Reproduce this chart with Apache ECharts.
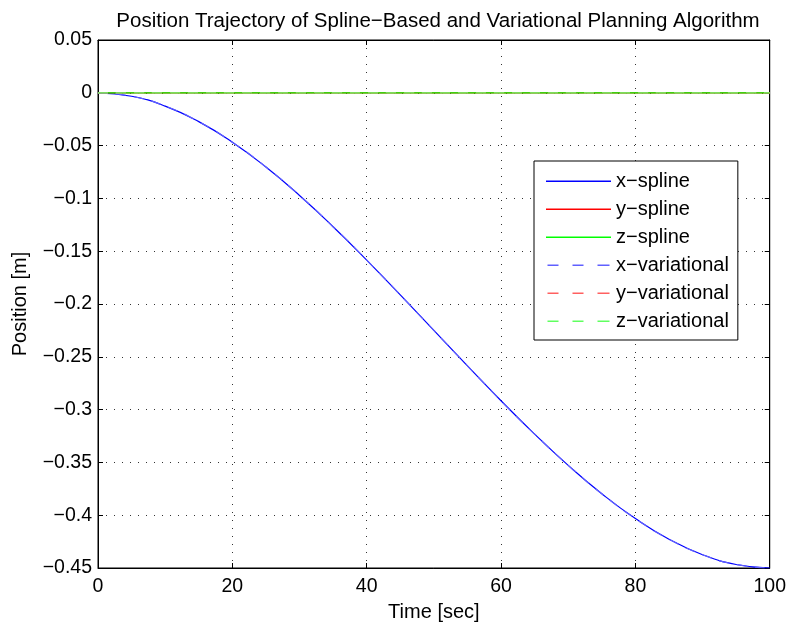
<!DOCTYPE html>
<html>
<head>
<meta charset="utf-8">
<script src="https://cdn.jsdelivr.net/npm/echarts@6/dist/echarts.min.js"></script>
<style>
  html, body { margin: 0; padding: 0; background: #fff; }
  #chart { width: 789px; height: 629px; }
</style>
</head>
<body>
<div id="chart"></div>
<script>
// time samples [sec]
const time = [0, 5, 10, 15, 20, 25, 30, 35, 40, 45, 50, 55, 60, 65, 70, 75, 80, 85, 90, 95, 100];
// positions [m]
const xSpline = [0, -0.0033, -0.0126, -0.0273, -0.0468, -0.0703, -0.0972, -0.1268, -0.1584, -0.1914, -0.225,
  -0.2586, -0.2916, -0.3232, -0.3528, -0.3797, -0.4032, -0.4227, -0.4374, -0.4467, -0.45];
const ySpline = [0, 0, 0, 0, 0, 0, 0, 0, 0, 0, 0, 0, 0, 0, 0, 0, 0, 0, 0, 0, 0];
const zSpline = [0, 0, 0, 0, 0, 0, 0, 0, 0, 0, 0, 0, 0, 0, 0, 0, 0, 0, 0, 0, 0];
const xVariational = [0, -0.0033, -0.0126, -0.0273, -0.0468, -0.0703, -0.0972, -0.1268, -0.1584, -0.1914, -0.225,
  -0.2586, -0.2916, -0.3232, -0.3528, -0.3797, -0.4032, -0.4227, -0.4374, -0.4467, -0.45];
const yVariational = [0, 0, 0, 0, 0, 0, 0, 0, 0, 0, 0, 0, 0, 0, 0, 0, 0, 0, 0, 0, 0];
const zVariational = [0, 0, 0, 0, 0, 0, 0, 0, 0, 0, 0, 0, 0, 0, 0, 0, 0, 0, 0, 0, 0];

const seriesNames = ["x\u2212spline", "y\u2212spline", "z\u2212spline",
  "x\u2212variational", "y\u2212variational", "z\u2212variational"];
const seriesValues = [xSpline, ySpline, zSpline, xVariational, yVariational, zVariational];
const seriesColors = ["#0000ff", "#ff0000", "#00ff00", "#6060ff", "#ff6060", "#60ff60"];
const seriesDashed = [false, false, false, true, true, true];

const font = "'Liberation Sans', Arial, Helvetica, sans-serif";

// legend samples: a thin bar (solid) or three dashes; the zero-width sliver keeps the 65x12 box
const solidIcon = "path://M0,0L0,12L0.001,12Z M0,5.5h65v1.4h-65Z";
const dashedIcon = "path://M0,0L0,12L0.001,12Z M0,5.5h11v1.4h-11Z M25,5.5h11v1.4h-11Z M50,5.5h12v1.4h-12Z";

function fmt(v) {
  const r = Math.round(v * 100) / 100;
  return String(r).replace("-", "\u2212");
}

const chart = echarts.init(document.getElementById("chart"), null, { renderer: "canvas" });

const gridLine = { show: true, lineStyle: { color: "#333", type: [1, 7], width: 1 } };
const tick = { show: true, inside: true, length: 5, lineStyle: { color: "#000" } };

const option = {
  animation: false,
  backgroundColor: "#fff",
  title: {
    text: "Position Trajectory of Spline\u2212Based and Variational Planning Algorithm",
    left: 433,
    textAlign: "center",
    top: 6,
    textStyle: { fontFamily: font, fontSize: 20.5, fontWeight: "normal", color: "#000" },
  },
  legend: {
    orient: "vertical",
    left: 534,
    top: 161,
    data: seriesNames.map((name, i) => ({
      name: name,
      icon: seriesDashed[i] ? dashedIcon : solidIcon,
      itemStyle: { color: seriesColors[i], borderWidth: 0 },
    })),
    itemWidth: 65,
    itemHeight: 12,
    itemGap: 8,
    padding: [10, 9, 9, 12],
    backgroundColor: "#fff",
    borderColor: "#000",
    borderWidth: 1,
    borderRadius: 0,
    textStyle: { fontFamily: font, fontSize: 20, color: "#000" },
  },
  grid: {
    left: 98,
    right: 19,
    top: 40,
    bottom: 61,
    show: true,
    borderColor: "#000",
    borderWidth: 1,
    containLabel: false,
  },
  xAxis: [
    {
      type: "value",
      min: 0,
      max: 100,
      interval: 20,
      name: "Time [sec]",
      nameLocation: "middle",
      nameGap: 34,
      nameTextStyle: { fontFamily: font, fontSize: 20, color: "#000" },
      axisLine: { show: true, onZero: false, lineStyle: { color: "#000" } },
      axisTick: tick,
      axisLabel: { fontFamily: font, fontSize: 19.5, color: "#000", margin: 9 },
      splitLine: gridLine,
    },
    {
      type: "value",
      position: "top",
      min: 0,
      max: 100,
      interval: 20,
      axisLine: { show: true, onZero: false, lineStyle: { color: "#000" } },
      axisTick: tick,
      axisLabel: { show: false },
      splitLine: { show: false },
    },
  ],
  yAxis: [
    {
      type: "value",
      min: -0.45,
      max: 0.05,
      interval: 0.05,
      name: "Position [m]",
      nameLocation: "middle",
      nameGap: 68,
      nameTextStyle: { fontFamily: font, fontSize: 20, color: "#000" },
      axisLine: { show: true, onZero: false, lineStyle: { color: "#000" } },
      axisTick: tick,
      axisLabel: { fontFamily: font, fontSize: 19.5, color: "#000", margin: 6, formatter: fmt },
      splitLine: gridLine,
    },
    {
      type: "value",
      position: "right",
      min: -0.45,
      max: 0.05,
      interval: 0.05,
      axisLine: { show: true, onZero: false, lineStyle: { color: "#000" } },
      axisTick: tick,
      axisLabel: { show: false },
      splitLine: { show: false },
    },
  ],
  series: seriesNames.map((name, i) => ({
    name: name,
    type: "line",
    data: time.map((t, j) => [t, seriesValues[i][j]]),
    smooth: true,
    symbol: "none",
    itemStyle: { color: seriesColors[i] },
    lineStyle: {
      color: seriesColors[i],
      width: 1.2,
      type: seriesDashed[i] ? [10, 8] : "solid",
    },
  })),
};

chart.setOption(option);
</script>
</body>
</html>
